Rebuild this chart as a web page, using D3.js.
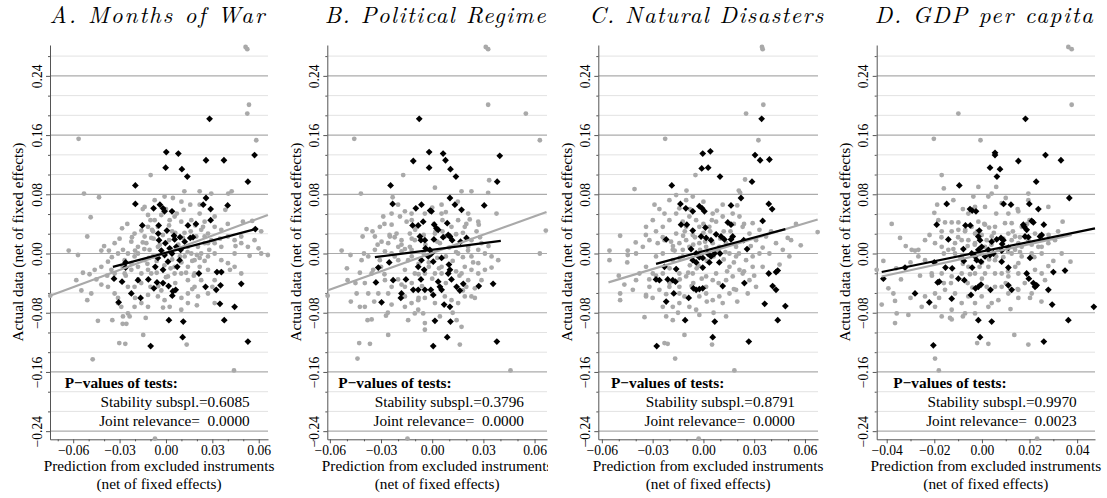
<!DOCTYPE html>
<html>
<head>
<meta charset="utf-8">
<script src="https://cdn.jsdelivr.net/npm/d3@7"></script>
<style>
  body { margin: 0; background: #fff; }
  svg { display: block; }
</style>
</head>
<body>
<div id="chart"></div>
<script>
/* Четыре панели: фактические данные против прогноза по исключённым инструментам */

const FONT = '"Liberation Serif"';
const TITLE_FONT = '"Latin Modern Roman"';

// ---- Подписи и оси ----
const titles = ['A. Months of War', 'B. Political Regime', 'C. Natural Disasters', 'D. GDP per capita'];
const yMajor = [-0.24, -0.16, -0.08, 0, 0.08, 0.16, 0.24];
const yMajorLabels = ['\u22120.24', '\u22120.16', '\u22120.08', '0.00', '0.08', '0.16', '0.24'];
const yMinor = [-0.2133, -0.1867, -0.1333, -0.1067, -0.0533, -0.0267, 0.0267, 0.0533, 0.1067, 0.1333, 0.1867, 0.2133, 0.2667];
const xTicksABC = [-0.06, -0.03, 0, 0.03, 0.06];
const xLabelsABC = ['\u22120.06', '\u22120.03', '0.00', '0.03', '0.06'];
const xMinorABC = [-0.07, -0.05, -0.04, -0.02, -0.01, 0.01, 0.02, 0.04, 0.05];
const xTicksD = [-0.04, -0.02, 0, 0.02, 0.04];
const xLabelsD = ['\u22120.04', '\u22120.02', '0.00', '0.02', '0.04'];
const xMinorD = [-0.03, -0.01, 0.01, 0.03];
const stability = ['0.6085', '0.3796', '0.8791', '0.9970'];
const jointRel = ['0.0000', '0.0000', '0.0000', '0.0023'];

// ---- Панель A: Months of War ----
const grayA = [
  [0.0515,0.279],[0.0526,0.276],[0.0537,0.201],[0.0526,0.189],[-0.0565,0.155],[0.0584,0.153],[-0.0099,0.106],
  [-0.0530,0.081],[-0.0433,0.076],[0.0119,0.084],[0.0218,0.084],[0.0293,0.081],[0.0403,0.081],[0.0425,0.084],
  [-0.0138,0.063],[0.0114,0.059],[0.0157,0.066],[0.0218,0.066],[0.0384,0.059],[-0.0487,0.049],[0.0498,0.043],
  [0.0558,0.044],[0.0616,0.030],[-0.0509,0.023],[-0.0629,0.004],[-0.0569,-0.002],[-0.0418,0.004],[-0.0369,0.004],
  [-0.0278,0.005],[0.0599,0.007],[0.0616,0.000],[0.0659,-0.002],[0.0541,-0.003],[0.0414,-0.022],[-0.0537,-0.026],
  [-0.0494,-0.028],[-0.0580,-0.036],[-0.0748,-0.057],[-0.0547,-0.050],[-0.0483,-0.054],[-0.0509,-0.063],
  [-0.0440,-0.091],[-0.0347,-0.090],[-0.0256,-0.095],[-0.0131,-0.087],[-0.0019,-0.073],[-0.0147,-0.110],
  [-0.0302,-0.121],[-0.0263,-0.122],[0.0134,-0.123],[-0.0474,-0.143],[0.0440,-0.158],[-0.0071,-0.250],
  [-0.0284,0.034],[-0.0203,0.027],[-0.0159,0.031],[-0.0116,0.036],[-0.0073,0.045],[-0.0116,0.052],[-0.0030,0.052],
  [0.0024,0.045],[0.0056,0.050],[0.0099,0.043],[0.0164,0.045],[0.0218,0.054],[0.0250,0.043],[0.0228,0.032],
  [0.0272,0.027],[0.0315,0.036],[0.0358,0.032],[0.0401,0.023],[0.0444,0.018],[0.0487,0.014],[0.0315,0.014],
  [0.0250,0.014],[0.0207,0.009],[0.0164,0.000],[0.0218,-0.006],[0.0272,-0.004],[0.0315,0.000],[0.0358,-0.009],
  [0.0401,-0.013],[0.0444,-0.018],[0.0487,-0.027],[0.0272,-0.022],[0.0185,-0.027],[0.0142,-0.036],[0.0142,-0.054],
  [0.0207,-0.058],[0.0272,-0.054],[0.0315,-0.067],[0.0142,-0.067],[0.0099,-0.076],[-0.0116,-0.072],[-0.0159,-0.067],
  [-0.0203,-0.072],[-0.0246,-0.081],[-0.0289,-0.072],[-0.0310,-0.060],[-0.0332,-0.054],[-0.0375,-0.045],
  [-0.0418,-0.042],[-0.0332,-0.027],[-0.0267,-0.027],[-0.0224,-0.022],[-0.0181,-0.018],[-0.0138,-0.009],
  [-0.0203,-0.004],[-0.0246,0.000],[-0.0181,0.009],[-0.0127,0.014],[-0.0106,0.005],[-0.0095,0.021],[-0.0224,0.016],
  [-0.0332,0.014],[-0.0310,0.000],[-0.0375,-0.011],[-0.0418,-0.018],[-0.0461,-0.022],[-0.0116,-0.022],
  [-0.0095,-0.027],[-0.0159,-0.027],[-0.0052,-0.058],[-0.0009,-0.063],[-0.0116,-0.056],[-0.0203,-0.045],
  [-0.0246,-0.045],[0.0228,-0.036],[0.0185,-0.045],[0.0315,-0.036],[0.0056,-0.027],[0.0099,-0.027],[0.0013,-0.031],
  [0.0444,0.000],[0.0530,0.009],[0.0487,0.023],[0.0573,0.018],[0.0358,0.009],[0.0196,0.023],[0.0250,0.023],
  [0.0293,0.018],[-0.0052,0.036],[-0.0084,0.030],[-0.0138,0.023],[-0.0181,0.000],[-0.0224,-0.013],[-0.0267,-0.009],
  [-0.0353,-0.022],[0.0024,-0.072],[-0.0310,-0.067],[-0.0278,-0.085],[-0.0235,-0.085],[0.0185,-0.009],
  [0.0142,-0.018],[0.0218,-0.018],[0.0228,0.000],[0.0272,0.014],[0.0315,0.050],[-0.0009,0.077],[0.0045,0.075],
  [-0.0073,0.072],[-0.0052,0.009],[-0.0084,-0.004],[0.0121,-0.004],[0.0142,0.009],[0.0056,-0.018],
  [-0.002,0.025],[0.004,0.030],[0.008,0.012],[-0.008,0.020],[-0.015,0.015],[-0.020,0.004],[-0.012,-0.014],
  [-0.006,-0.010],[0.010,-0.012],[0.017,-0.010],[0.012,0.028],[0.019,0.038],[-0.010,0.045],[-0.025,0.040],
  [-0.030,0.020],[-0.035,-0.005],[-0.028,-0.018],[-0.018,-0.035],[-0.010,-0.045],[0.003,-0.020],[0.006,-0.040],
  [0.018,-0.030],[0.025,-0.010],[0.028,0.005],[0.035,0.020],[0.040,0.040],[0.045,0.010],[0.036,-0.025],
  [0.030,-0.045],[0.010,-0.060],[-0.003,-0.050],[-0.020,-0.060],[-0.038,-0.030],[-0.045,-0.035],[-0.040,0.010],
  [0.000,0.060],[0.010,0.070],[-0.015,0.060],[0.020,-0.070],[-0.028,-0.095],
  [-0.004,0.012],[0.002,0.018],[0.006,0.028],[0.011,0.021],[0.014,0.002],[0.009,-0.004],[0.004,-0.008],
  [-0.001,-0.016],[-0.006,-0.026],[-0.011,-0.006],[-0.014,0.006],[-0.009,0.032],[0.002,0.038],[0.016,0.030],
  [0.020,-0.002],[0.013,-0.026],[0.000,-0.032],[-0.016,-0.040],[-0.022,0.022],[0.024,0.036],[0.007,0.054],
  [-0.005,-0.044],[0.017,-0.048],[-0.026,-0.030]
];
const blackA = [
  [0.0282,0.182],[0.0002,0.137],[0.0080,0.135],[0.0573,0.133],[0.0259,0.126],[0.0375,0.126],[-0.0002,0.116],
  [0.0103,0.114],[0.0138,0.104],[0.0530,0.097],[-0.0198,0.092],[0.0259,0.075],[-0.0198,0.067],[-0.0039,0.066],
  [-0.0019,0.061],[-0.0009,0.057],[0.0039,0.057],[-0.0080,0.061],[0.0241,0.066],[0.0289,0.060],[0.0289,0.045],
  [0.0399,0.065],[-0.0153,0.038],[-0.0047,0.038],[0.0142,0.038],[0.0194,0.040],[0.0006,0.031],[-0.0050,0.027],
  [0.0052,0.024],[0.0091,0.022],[0.0157,0.021],[0.0175,0.022],[0.0578,0.033],[-0.0261,-0.012],[-0.0261,-0.019],
  [-0.0336,-0.034],[-0.0284,-0.038],[-0.0224,-0.054],[-0.0164,-0.060],[-0.0306,-0.066],[-0.0181,-0.036],
  [-0.0114,-0.035],[-0.0058,-0.039],[-0.0078,-0.047],[-0.0019,-0.040],[0.0017,-0.044],[0.0045,-0.051],
  [0.0063,-0.049],[0.0041,-0.057],[0.0213,-0.027],[0.0330,-0.025],[0.0358,-0.025],[0.0353,-0.043],[0.0325,-0.049],
  [0.0256,-0.045],[0.0487,-0.041],[0.0349,-0.068],[0.0444,-0.072],[0.0019,-0.090],[0.0112,-0.092],[0.0377,-0.090],
  [0.0108,-0.113],[-0.0099,-0.125],[0.0530,-0.119],[-0.0004,0.014],[0.0024,0.007],[-0.0030,0.004],[-0.0009,-0.002],
  [0.0039,0.000],[0.0067,0.009],[0.0095,0.005],[-0.0052,-0.006],[-0.0069,-0.018],[0.0013,-0.011],[0.0088,-0.009],
  [0.0073,-0.018],[-0.0019,-0.022],[0.0121,0.016],[-0.0045,0.018],[0.0056,0.019]
];
const fitGrayA = [[-0.0750, -0.057], [0.0659, 0.052]];
const fitBlackA = [[-0.0343, -0.018], [0.0578, 0.033]];

// ---- Панель B: Political Regime ----
const grayB = [
  [0.0314,0.279],[0.0328,0.276],[0.0328,0.201],[0.0549,0.189],[-0.0457,0.155],[0.0631,0.153],[-0.0170,0.106],
  [-0.0418,0.081],[0.0666,0.031],[-0.0531,0.004],[-0.0479,-0.002],[0.0631,0.000],[-0.0613,-0.057],[-0.0496,-0.036],
  [-0.0424,-0.026],[-0.0443,-0.054],[-0.0477,-0.065],[-0.0424,-0.072],[-0.0395,-0.072],[-0.0379,-0.090],
  [-0.0355,-0.089],[-0.0271,-0.084],[-0.0258,-0.110],[-0.0428,-0.121],[-0.0365,-0.122],[-0.0438,-0.142],
  [0.0162,-0.123],[0.0459,-0.158],[-0.0145,-0.250],[0.0016,0.089],[0.0172,0.084],[0.0230,0.084],[0.0328,0.082],
  [0.0334,0.099],[0.0055,0.066],[0.0377,0.054],[0.0270,0.043],[0.0273,0.039],[-0.0232,0.076],[-0.0385,0.033],
  [-0.0408,0.023],[0.0348,-0.019],
  [-0.0160,0.057],[-0.0121,0.054],[-0.0150,0.043],[-0.0238,0.039],[-0.0209,0.027],[-0.0248,0.023],[-0.0258,0.014],
  [-0.0180,0.018],[-0.0131,0.027],[-0.0043,0.054],[0.0055,0.054],[0.0113,0.036],[0.0152,0.045],[0.0211,0.054],
  [0.0191,0.036],[0.0260,0.030],[0.0230,0.018],[0.0289,0.014],[0.0211,0.009],[0.0152,0.000],[0.0230,-0.004],
  [0.0270,0.005],[0.0309,0.000],[0.0191,-0.018],[0.0230,-0.022],[0.0172,-0.027],[0.0270,-0.027],[0.0211,-0.036],
  [-0.0043,-0.027],[-0.0102,-0.027],[-0.0160,-0.022],[-0.0141,-0.009],[-0.0199,-0.009],[-0.0238,0.000],
  [-0.0277,0.003],[-0.0336,0.005],[-0.0307,-0.009],[-0.0355,-0.027],[-0.0395,-0.040],[-0.0375,-0.054],
  [-0.0316,-0.054],[-0.0258,-0.054],[-0.0238,-0.069],[-0.0160,-0.072],[-0.0121,-0.067],[-0.0102,-0.081],
  [-0.0053,-0.081],[-0.0043,-0.094],[-0.0141,-0.090],[-0.0082,-0.063],[-0.0043,-0.060],[0.0016,-0.067],
  [0.0074,-0.058],[0.0113,-0.063],[0.0152,-0.067],[0.0191,-0.058],[0.0230,-0.058],[-0.0180,0.003],[-0.0121,0.005],
  [-0.0199,0.009],[-0.0297,0.016],[-0.0346,-0.022],[-0.0160,-0.045],[-0.0238,-0.045],[-0.0277,-0.036],
  [-0.0375,-0.004],[-0.0414,-0.009],[0.0055,-0.027],[0.0016,-0.027],[0.0055,-0.018],[-0.0102,0.018],
  [-0.0131,0.009],[0.0045,0.014],[0.0016,0.027],[0.0074,0.023],[-0.0092,0.036],[-0.0189,0.050],[-0.0238,0.054],
  [-0.0287,0.050],[-0.0336,0.023],[-0.0307,0.036],[0.0045,-0.085],[-0.0082,-0.076],[-0.0160,-0.058],
  [0.0270,-0.013],[0.0348,-0.004],[0.0387,-0.009],[0.0309,-0.022],[0.0289,-0.036],[0.0250,-0.047],[0.0143,-0.090],
  [-0.0043,-0.103],[0.0172,-0.099],
  [-0.005,0.025],[0.002,0.030],[0.010,0.008],[-0.012,0.020],[-0.018,0.012],[-0.022,-0.004],[-0.008,-0.014],
  [-0.002,-0.012],[0.012,-0.010],[0.018,-0.005],[0.014,0.026],[0.020,0.040],[-0.012,0.045],[-0.028,0.040],
  [-0.032,0.012],[-0.040,0.000],[-0.030,-0.018],[-0.020,-0.035],[-0.012,-0.040],[0.004,-0.020],[0.008,-0.040],
  [0.016,-0.030],[0.024,-0.012],[0.028,0.022],[0.033,0.010],[-0.045,-0.040],[-0.050,-0.020],[-0.035,0.030],
  [0.000,0.062],[-0.020,0.066],[0.015,0.070],[-0.008,-0.060],[0.012,-0.080],[-0.026,-0.080],[-0.034,-0.065],
  [0.020,-0.045],[-0.005,0.000],[0.006,0.045],[-0.025,0.025],[0.025,-0.060],
  [-0.004,0.012],[0.003,0.016],[0.006,0.030],[0.011,0.020],[0.014,0.002],[0.008,-0.004],[0.003,-0.006],
  [-0.002,-0.018],[-0.008,-0.028],[-0.012,-0.004],[-0.016,0.006],[-0.010,0.032],[0.001,0.040],[0.018,0.028],
  [0.021,0.004],[0.014,-0.024],[0.000,-0.034],[-0.018,-0.042],[-0.022,0.022],[0.022,0.046],[0.008,0.056],
  [-0.006,-0.044],[0.018,-0.050],[-0.028,-0.028]
];
const blackB = [
  [-0.0076,0.182],[-0.0018,0.137],[0.0064,0.135],[-0.0111,0.125],[0.0078,0.126],[0.0396,0.132],[-0.0018,0.116],
  [0.0107,0.114],[0.0139,0.104],[0.0381,0.097],[-0.0244,0.092],[0.0104,0.075],[-0.0232,0.067],[-0.0063,0.066],
  [-0.0096,0.061],[-0.0012,0.058],[-0.0004,0.057],[0.0133,0.066],[0.0172,0.059],[0.0305,0.065],[-0.0053,0.043],
  [-0.0115,0.038],[-0.0082,0.038],[0.0012,0.039],[0.0025,0.034],[0.0035,0.032],[0.0088,0.041],[-0.0072,0.023],
  [-0.0066,0.018],[-0.0043,0.018],[0.0010,0.019],[0.0064,0.022],[0.0094,0.025],[0.0117,0.018],[0.0104,0.023],
  [0.0166,0.016],[0.0201,0.021],[-0.0039,0.007],[-0.0014,0.005],[-0.0004,0.000],[-0.0023,-0.004],[-0.0063,-0.009],
  [-0.0082,-0.018],[-0.0047,-0.022],[0.0006,-0.011],[0.0055,-0.006],[0.0098,-0.015],[0.0104,-0.022],
  [0.0094,-0.027],[0.0113,-0.035],[-0.0316,-0.019],[-0.0252,-0.012],[-0.0330,-0.039],[-0.0229,-0.036],
  [-0.0154,-0.035],[-0.0066,-0.035],[0.0035,-0.038],[0.0045,-0.045],[0.0055,-0.049],[-0.0111,-0.049],
  [-0.0082,-0.049],[-0.0043,-0.049],[-0.0008,-0.049],[0.0006,-0.056],[-0.0180,-0.054],[-0.0184,-0.060],
  [-0.0297,-0.066],[0.0143,-0.045],[0.0162,-0.050],[0.0182,-0.041],[0.0273,-0.044],[0.0357,-0.041],
  [0.0070,-0.069],[0.0104,-0.072],[0.0016,-0.091],[0.0107,-0.092],[0.0088,-0.113],[0.0006,-0.125],[0.0379,-0.119]
];
const fitGrayB = [[-0.0615, -0.050], [0.0670, 0.056]];
const fitBlackB = [[-0.0336, -0.005], [0.0402, 0.017]];

// ---- Панель C: Natural Disasters ----
const grayC = [
  [0.0346,0.279],[0.0350,0.276],[0.0354,0.201],[0.0252,0.189],[-0.0226,0.155],[0.0325,0.153],[-0.0047,0.106],
  [-0.0407,0.087],[-0.0289,0.066],[-0.0492,0.024],[-0.0555,0.004],[-0.0555,-0.009],[-0.0447,0.004],
  [-0.0447,-0.002],[0.0675,0.029],[0.0547,0.040],[0.0575,0.011],[0.0518,0.018],[-0.0492,-0.054],[-0.0492,-0.063],
  [-0.0467,-0.042],[-0.0417,-0.049],[-0.0348,-0.086],[-0.0339,-0.056],[-0.0339,-0.058],[-0.0230,-0.121],
  [-0.0211,-0.122],[-0.0112,-0.110],[-0.0167,-0.142],[0.0051,-0.123],[0.0183,-0.158],[-0.0028,-0.250],
  [0.0246,0.100],[0.0209,0.085],[0.0217,0.082],[0.0114,0.066],[0.0498,0.021],
  [-0.0280,0.030],[-0.0240,0.036],[-0.0201,0.045],[-0.0161,0.054],[-0.0142,0.061],[-0.0102,0.072],[-0.0063,0.077],
  [-0.0161,0.079],[-0.0201,0.072],[-0.0230,0.054],[-0.0299,0.045],[-0.0339,0.036],[-0.0319,0.018],[-0.0270,0.014],
  [-0.0358,0.009],[-0.0398,0.000],[-0.0240,0.000],[-0.0181,0.005],[-0.0142,0.014],[-0.0102,0.018],[-0.0161,0.027],
  [-0.0122,0.043],[-0.0083,0.050],[-0.0043,0.045],[0.0055,0.054],[0.0075,0.043],[0.0035,0.036],[0.0114,0.050],
  [0.0173,0.054],[0.0213,0.050],[0.0232,0.036],[0.0291,0.041],[0.0331,0.032],[0.0370,0.023],[0.0311,0.018],
  [0.0272,0.027],[0.0193,0.009],[0.0154,0.000],[0.0193,-0.004],[0.0252,-0.009],[0.0291,-0.004],[0.0331,0.000],
  [0.0390,0.000],[0.0429,0.014],[0.0469,0.005],[0.0508,-0.004],[0.0350,-0.018],[0.0291,-0.018],[0.0213,-0.022],
  [0.0173,-0.031],[0.0154,-0.018],[0.0075,-0.027],[0.0016,-0.031],[-0.0063,-0.027],[-0.0102,-0.031],
  [-0.0142,-0.027],[-0.0122,-0.004],[-0.0181,-0.009],[-0.0240,-0.027],[-0.0299,-0.027],[-0.0339,-0.018],
  [-0.0378,-0.027],[-0.0398,-0.036],[-0.0319,-0.045],[-0.0260,-0.049],[-0.0201,-0.045],[-0.0142,-0.045],
  [-0.0112,-0.058],[-0.0142,-0.067],[-0.0181,-0.072],[-0.0240,-0.072],[-0.0220,-0.085],[-0.0181,-0.090],
  [-0.0142,-0.054],[-0.0083,-0.072],[-0.0043,-0.076],[-0.0024,-0.058],[0.0016,-0.054],[0.0055,-0.063],
  [0.0094,-0.058],[0.0114,-0.067],[0.0154,-0.054],[0.0193,-0.049],[0.0016,-0.045],[0.0055,-0.036],[0.0134,-0.036],
  [0.0272,-0.036],[0.0311,-0.045],[-0.0083,0.009],[-0.0122,0.005],[-0.0024,0.014],[0.0016,0.009],[0.0055,0.014],
  [0.0094,0.009],[0.0134,0.014],[-0.0063,0.025],[-0.0102,0.036],[-0.0230,0.018],[-0.0191,0.016],[-0.0024,0.036],
  [0.0232,-0.027],[0.0262,-0.054],[0.0134,-0.085],[-0.0024,-0.083],
  [-0.005,0.022],[0.000,0.028],[0.008,0.004],[-0.012,0.024],[-0.018,0.010],[-0.028,-0.004],[-0.008,-0.016],
  [-0.004,-0.020],[0.012,-0.008],[0.018,-0.012],[0.012,0.030],[0.018,0.040],[-0.008,0.060],[-0.026,0.060],
  [-0.034,0.025],[-0.045,-0.012],[-0.032,-0.035],[-0.022,-0.055],[-0.006,-0.040],[0.002,-0.065],[0.009,-0.040],
  [0.024,-0.024],[0.028,0.010],[0.040,0.030],[0.045,-0.015],[-0.050,-0.030],[-0.040,0.015],[-0.010,0.085],
  [0.000,0.070],[0.020,0.065],[-0.030,-0.060],[-0.015,-0.080],[0.006,-0.080],[0.020,-0.065],[-0.020,-0.020],
  [-0.014,-0.035],[0.030,-0.030],[0.035,0.008],[0.005,0.045],[-0.002,0.005],
  [-0.006,0.012],[0.001,0.016],[0.004,0.030],[0.010,0.020],[0.013,0.002],[0.006,-0.004],[0.002,-0.010],
  [-0.003,-0.016],[-0.009,-0.026],[-0.014,-0.006],[-0.017,0.004],[-0.011,0.030],[0.000,0.040],[0.016,0.030],
  [0.021,0.000],[0.014,-0.024],[-0.001,-0.034],[-0.020,-0.040],[-0.024,0.022],[0.024,0.040],[0.008,0.058],
  [-0.007,-0.044],[0.018,-0.048],[-0.028,-0.030]
];
const blackC = [
  [0.0344,0.182],[-0.0004,0.135],[0.0041,0.138],[-0.0010,0.115],[0.0028,0.116],[0.0098,0.104],[0.0305,0.133],
  [0.0335,0.126],[0.0390,0.127],[0.0287,0.097],[-0.0187,0.092],[0.0222,0.075],[-0.0136,0.067],[-0.0104,0.061],
  [-0.0063,0.057],[-0.0024,0.064],[-0.0008,0.061],[0.0006,0.057],[0.0163,0.065],[0.0386,0.067],[0.0406,0.060],
  [0.0350,0.044],[-0.0132,0.039],[-0.0098,0.039],[0.0144,0.042],[0.0163,0.039],[0.0012,0.035],[-0.0063,0.031],
  [-0.0220,0.019],[-0.0014,0.023],[0.0016,0.021],[0.0045,0.018],[0.0075,0.026],[0.0104,0.023],[0.0124,0.019],
  [0.0173,0.023],[0.0163,0.019],[0.0238,0.018],[-0.0073,0.006],[-0.0043,0.000],[-0.0024,-0.005],[-0.0063,-0.009],
  [-0.0004,-0.006],[0.0026,0.000],[0.0045,-0.004],[0.0065,0.000],[-0.0043,-0.012],[-0.0004,-0.019],
  [0.0035,-0.012],[0.0094,-0.012],[0.0098,0.000],[0.0258,0.006],[-0.0230,-0.018],[-0.0161,-0.021],
  [-0.0280,-0.035],[-0.0260,-0.036],[-0.0211,-0.035],[-0.0181,-0.036],[-0.0165,-0.038],[-0.0175,-0.054],
  [-0.0220,-0.065],[-0.0059,-0.047],[-0.0043,-0.049],[-0.0024,-0.048],[-0.0004,-0.047],[0.0114,-0.044],
  [0.0242,-0.040],[0.0386,-0.027],[0.0429,-0.025],[0.0439,-0.023],[0.0409,-0.044],[0.0429,-0.049],
  [-0.0087,-0.060],[-0.0108,-0.090],[0.0067,-0.092],[0.0362,-0.068],[0.0484,-0.071],[0.0439,-0.090],
  [0.0055,-0.113],[0.0268,-0.119],[-0.0276,-0.125]
];
const fitGrayC = [[-0.0561, -0.039], [0.0675, 0.046]];
const fitBlackC = [[-0.0280, -0.014], [0.0484, 0.033]];

// ---- Панель D: GDP per capita ----
const grayD = [
  [0.0363,0.279],[0.0377,0.276],[0.0377,0.201],[-0.0099,0.189],[-0.0202,0.155],[-0.0006,0.153],[-0.0169,0.106],
  [-0.0160,0.088],[-0.0188,0.066],[-0.0379,0.040],[-0.0344,0.021],[-0.0281,0.004],[-0.0267,0.005],
  [-0.0442,-0.022],[-0.0414,-0.010],[-0.0393,-0.047],[-0.0365,-0.064],[-0.0358,-0.081],[-0.0365,-0.094],
  [-0.0309,-0.083],[-0.0421,-0.069],[-0.0372,-0.054],[-0.0134,-0.087],[-0.0127,-0.089],[-0.0197,-0.142],
  [-0.0181,-0.158],[0.0136,-0.110],[-0.0020,-0.121],[0.0027,-0.122],[0.0195,-0.123],[0.0232,-0.250],
  [0.0339,0.043],[0.0372,-0.011],[0.0279,-0.017],[0.0202,-0.060],[0.0153,-0.060],
  [-0.0183,0.045],[-0.0155,0.042],[-0.0127,0.042],[-0.0099,0.042],[-0.0057,0.054],[-0.0029,0.063],[0.0013,0.063],
  [0.0027,0.077],[0.0041,0.081],[-0.0036,0.077],[-0.0015,0.090],[0.0083,0.068],[0.0111,0.054],[0.0125,0.041],
  [0.0153,0.057],[0.0195,0.081],[0.0195,0.072],[0.0279,0.063],[-0.0169,0.030],[-0.0127,0.030],[-0.0099,0.032],
  [-0.0071,0.030],[-0.0043,0.036],[-0.0015,0.043],[0.0013,0.039],[0.0055,0.036],[0.0097,0.041],[0.0111,0.027],
  [0.0139,0.023],[0.0153,0.014],[0.0209,0.012],[0.0237,0.009],[0.0279,0.014],[0.0307,0.018],[0.0335,0.000],
  [0.0251,0.000],[0.0209,0.000],[0.0167,-0.004],[0.0153,-0.013],[0.0125,0.000],[0.0055,-0.009],[0.0027,-0.018],
  [-0.0057,-0.018],[-0.0085,-0.004],[-0.0113,0.000],[-0.0141,0.005],[-0.0169,0.009],[-0.0197,0.014],
  [-0.0239,0.018],[-0.0267,-0.004],[-0.0295,0.005],[-0.0239,-0.009],[-0.0211,-0.027],[-0.0169,-0.027],
  [-0.0127,-0.031],[-0.0085,-0.027],[-0.0029,-0.027],[0.0013,-0.027],[0.0055,-0.027],[0.0083,-0.027],
  [0.0111,-0.031],[0.0153,-0.027],[0.0223,-0.022],[0.0251,-0.027],[0.0265,-0.036],[0.0209,-0.054],
  [0.0153,-0.049],[0.0111,-0.054],[0.0069,-0.063],[0.0041,-0.067],[-0.0001,-0.058],[-0.0029,-0.067],
  [-0.0057,-0.058],[-0.0085,-0.067],[-0.0113,-0.054],[-0.0155,-0.049],[-0.0197,-0.054],[-0.0239,-0.058],
  [-0.0253,-0.072],[-0.0197,-0.072],[-0.0127,-0.076],[-0.0169,-0.085],[-0.0071,-0.081],[-0.0029,-0.081],
  [0.0027,-0.072],[0.0055,-0.045],[0.0083,-0.045],[0.0013,0.009],[-0.0029,0.014],[0.0041,0.023],[-0.0057,0.018],
  [-0.0085,0.018],[-0.0113,0.014],[-0.0001,0.025],[-0.0029,0.027],[0.0139,0.005],[0.0167,0.009],[0.0195,0.018],
  [0.0223,0.027],[0.0251,0.009],[0.0167,0.036],[0.0125,0.018],
  [-0.002,0.030],[0.003,0.035],[0.007,0.005],[-0.006,0.010],[-0.010,0.022],[-0.016,0.000],[-0.008,-0.014],
  [0.000,-0.012],[0.009,-0.005],[0.014,-0.018],[0.016,0.022],[0.020,0.045],[-0.008,0.060],[-0.020,0.055],
  [-0.022,0.025],[-0.030,-0.012],[-0.026,-0.030],[-0.016,-0.040],[-0.006,-0.040],[0.002,-0.045],[0.010,-0.040],
  [0.018,-0.040],[0.022,-0.005],[0.028,0.025],[0.030,-0.010],[-0.034,-0.035],[-0.032,0.010],[0.006,0.090],
  [0.010,0.075],[-0.012,0.072],[-0.030,-0.060],[-0.008,-0.085],[0.012,-0.075],[0.025,-0.065],[-0.004,0.000],
  [0.004,0.012],[0.032,0.030],[-0.036,-0.020],[0.015,0.060],[-0.018,-0.060],
  [-0.003,0.012],[0.002,0.018],[0.005,0.028],[0.009,0.020],[0.011,0.002],[0.006,-0.004],[0.003,-0.008],
  [-0.001,-0.018],[-0.005,-0.028],[-0.009,-0.006],[-0.012,0.006],[-0.007,0.032],[0.001,0.040],[0.013,0.030],
  [0.016,0.002],[0.011,-0.024],[0.000,-0.034],[-0.013,-0.040],[-0.017,0.022],[0.019,0.040],[0.006,0.054],
  [-0.004,-0.046],[0.015,-0.048],[-0.021,-0.030]
];
const blackD = [
  [0.0183,0.182],[0.0055,0.136],[0.0055,0.133],[0.0034,0.116],[0.0076,0.114],[0.0063,0.104],[0.0153,0.125],
  [0.0267,0.133],[0.0332,0.126],[0.0228,0.097],[-0.0095,0.092],[0.0367,0.075],[-0.0148,0.067],[-0.0050,0.060],
  [-0.0041,0.058],[-0.0025,0.057],[0.0091,0.067],[0.0122,0.066],[0.0199,0.067],[0.0237,0.060],[-0.0190,0.039],
  [-0.0069,0.038],[-0.0049,0.038],[-0.0141,0.019],[-0.0011,0.031],[0.0174,0.039],[0.0178,0.036],[0.0209,0.044],
  [0.0216,0.042],[0.0188,0.032],[0.0260,0.039],[0.0251,0.025],[0.0244,0.023],[0.0181,0.023],[0.0195,0.022],
  [-0.0015,0.023],[-0.0008,0.018],[0.0041,0.016],[0.0062,0.019],[0.0080,0.021],[0.0090,0.018],[0.0085,0.013],
  [-0.0078,0.006],[-0.0043,0.000],[-0.0029,-0.004],[-0.0015,0.005],[-0.0001,0.009],[-0.0022,-0.009],
  [-0.0004,-0.011],[-0.0041,-0.019],[0.0027,0.005],[0.0034,-0.002],[0.0048,0.000],[0.0013,-0.004],[0.0083,0.004],
  [0.0111,-0.019],[0.0083,-0.011],[0.0202,-0.006],[-0.0076,-0.010],[-0.0323,-0.019],[-0.0414,-0.034],
  [-0.0200,-0.012],[-0.0153,-0.019],[-0.0125,-0.020],[-0.0186,-0.039],[-0.0179,-0.038],[-0.0099,-0.034],
  [-0.0074,-0.036],[-0.0127,-0.061],[-0.0221,-0.066],[-0.0281,-0.054],[-0.0046,-0.056],[-0.0027,-0.047],
  [-0.0015,-0.045],[-0.0004,-0.042],[0.0036,-0.049],[0.0111,-0.043],[0.0125,-0.049],[0.0188,-0.027],
  [0.0216,-0.040],[0.0230,-0.043],[0.0223,-0.045],[0.0300,-0.025],[0.0349,-0.023],[0.0279,-0.049],
  [0.0295,-0.069],[0.0197,-0.034],[0.0470,-0.072],[-0.0015,-0.090],[0.0041,-0.092],[0.0363,-0.090],
  [-0.0008,-0.113],[-0.0204,-0.124],[0.0260,-0.119],[0.0111,0.008]
];
const fitGrayD = [[-0.0421, -0.031], [0.0377, 0.025]];
const fitBlackD = [[-0.0421, -0.025], [0.0475, 0.034]];

// ---- Раскладка панелей (пиксели и диапазоны осей) ----
const layout = [
  { left: 50,    right: 268,  xDomain: [-0.075, 0.066],   tl: 14.7, tr: 18.3, tw: 215 },
  { left: 327.3, right: 547,  xDomain: [-0.0615, 0.0673], tl: 11,   tr: 23,   tw: 221 },
  { left: 598.3, right: 818,  xDomain: [-0.0621, 0.0677], tl: 12.7, tr: 23,   tw: 234 },
  { left: 876.7, right: 1095, xDomain: [-0.0442, 0.0475], tl: 16.6, tr: 18.3, tw: 218 }
];

const panels = [
  { gray: grayA, black: blackA, fitGray: fitGrayA, fitBlack: fitBlackA, ticks: xTicksABC, labels: xLabelsABC, minor: xMinorABC },
  { gray: grayB, black: blackB, fitGray: fitGrayB, fitBlack: fitBlackB, ticks: xTicksABC, labels: xLabelsABC, minor: xMinorABC },
  { gray: grayC, black: blackC, fitGray: fitGrayC, fitBlack: fitBlackC, ticks: xTicksABC, labels: xLabelsABC, minor: xMinorABC },
  { gray: grayD, black: blackD, fitGray: fitGrayD, fitBlack: fitBlackD, ticks: xTicksD, labels: xLabelsD, minor: xMinorD }
];

const W = 1107, H = 498;
const TOP = 45, BOTTOM = 439.3;
const GRAY = '#a9a9a9';

const svg = d3.select('#chart').append('svg')
  .attr('width', W)
  .attr('height', H);

// Общая шкала Y (одни и те же наблюдения во всех панелях)
const y = d3.scaleLinear().domain([-0.251, 0.2817]).range([BOTTOM, TOP]);

// Обрезка подписи оси X во второй панели (как в оригинале)
svg.append('defs').append('clipPath').attr('id', 'clipB')
  .append('rect').attr('x', 277).attr('y', 455).attr('width', 271).attr('height', 43);

panels.forEach((p, i) => {
  const L = layout[i];
  const x = d3.scaleLinear().domain(L.xDomain).range([L.left, L.right]);
  const g = svg.append('g').attr('class', 'panel');

  // Сетка: второстепенные линии
  g.append('g').selectAll('line').data(yMinor).join('line')
    .attr('x1', L.left).attr('x2', L.right)
    .attr('y1', d => y(d)).attr('y2', d => y(d))
    .attr('stroke', '#e2e2e2').attr('stroke-width', 1);

  // Сетка: основные линии
  g.append('g').selectAll('line').data(yMajor).join('line')
    .attr('x1', L.left).attr('x2', L.right)
    .attr('y1', d => y(d)).attr('y2', d => y(d))
    .attr('stroke', '#ababab').attr('stroke-width', 1.2);

  // Ось Y: мелкие деления
  g.append('g').attr('transform', `translate(${L.left},0)`)
    .call(d3.axisLeft(y).tickValues(yMinor).tickSize(2).tickSizeOuter(0).tickFormat(''))
    .call(s => s.select('.domain').remove())
    .call(s => s.selectAll('line').attr('stroke', '#555'));

  // Ось Y: основные деления и подписи (повёрнутые)
  const yAx = g.append('g').attr('transform', `translate(${L.left},0)`)
    .call(d3.axisLeft(y).tickValues(yMajor).tickSize(4).tickSizeOuter(0)
      .tickFormat((d, k) => yMajorLabels[k]));
  yAx.select('.domain').attr('stroke', '#555');
  yAx.selectAll('line').attr('stroke', '#555');
  yAx.selectAll('text')
    .attr('x', null).attr('dy', null)
    .attr('transform', 'translate(-8.3,0) rotate(-90)')
    .attr('text-anchor', 'middle')
    .attr('font-size', '13.6px');

  // Ось X: мелкие деления
  g.append('g').attr('transform', `translate(0,${BOTTOM})`)
    .call(d3.axisBottom(x).tickValues(p.minor).tickSize(2).tickSizeOuter(0).tickFormat(''))
    .call(s => s.select('.domain').remove())
    .call(s => s.selectAll('line').attr('stroke', '#555'));

  // Ось X: основные деления
  const xAx = g.append('g').attr('transform', `translate(0,${BOTTOM})`)
    .call(d3.axisBottom(x).tickValues(p.ticks).tickSize(4).tickSizeOuter(0).tickPadding(2)
      .tickFormat((d, k) => p.labels[k]));
  xAx.select('.domain').attr('stroke', '#555');
  xAx.selectAll('line').attr('stroke', '#555');
  xAx.selectAll('text').attr('font-size', '13.6px');

  // Серые точки
  g.append('g').selectAll('circle').data(p.gray).join('circle')
    .attr('cx', d => x(d[0])).attr('cy', d => y(d[1]))
    .attr('r', 2.4).attr('fill', GRAY);

  // Чёрные ромбы
  const diamond = d3.symbol().type(d3.symbolSquare).size(23);
  g.append('g').selectAll('path').data(p.black).join('path')
    .attr('d', diamond)
    .attr('transform', d => `translate(${x(d[0])},${y(d[1])}) rotate(45)`)
    .attr('fill', '#000');

  // Линии регрессии
  const line = d3.line().x(d => x(d[0])).y(d => y(d[1]));
  g.append('path').datum(p.fitGray).attr('d', line)
    .attr('fill', 'none').attr('stroke', GRAY).attr('stroke-width', 2.2);
  g.append('path').datum(p.fitBlack).attr('d', line)
    .attr('fill', 'none').attr('stroke', '#000').attr('stroke-width', 2.2);

  // Блок с p-значениями
  g.append('text')
    .attr('x', L.left + L.tl).attr('y', 388)
    .attr('font-size', '15.3px').attr('font-weight', 'bold')
    .text('P\u2212values of tests:');
  g.append('text')
    .attr('x', L.right - L.tr).attr('y', 406.5)
    .attr('text-anchor', 'end').attr('font-size', '15.3px')
    .text('Stability subspl.=' + stability[i]);
  g.append('text')
    .attr('x', L.right - L.tr).attr('y', 425.5)
    .attr('text-anchor', 'end').attr('font-size', '15.3px')
    .style('white-space', 'pre')
    .text('Joint relevance=  ' + jointRel[i]);

  const cx = (L.left + L.right) / 2;

  // Подпись оси Y
  g.append('text')
    .attr('transform', `translate(${L.left - 26.7},${(TOP + BOTTOM) / 2}) rotate(-90)`)
    .attr('text-anchor', 'middle').attr('font-size', '15.3px')
    .text('Actual data (net of fixed effects)');

  // Подпись оси X
  const xt = g.append('g');
  if (i === 1) xt.attr('clip-path', 'url(#clipB)');
  xt.append('text')
    .attr('x', cx).attr('y', 471)
    .attr('text-anchor', 'middle').attr('font-size', '15.3px')
    .text('Prediction from excluded instruments');
  xt.append('text')
    .attr('x', cx).attr('y', 488.5)
    .attr('text-anchor', 'middle').attr('font-size', '15.3px')
    .text('(net of fixed effects)');

  // Шрифт для всех подписей панели
  g.selectAll('text').style('font-family', FONT);

  // Заголовок панели
  g.append('text')
    .attr('x', cx - 2).attr('y', 23)
    .attr('text-anchor', 'middle')
    .attr('font-size', '23.2px').attr('font-style', 'italic')
    .attr('textLength', L.tw).attr('lengthAdjust', 'spacing')
    .style('font-family', TITLE_FONT)
    .text(titles[i]);
});
</script>
</body>
</html>
